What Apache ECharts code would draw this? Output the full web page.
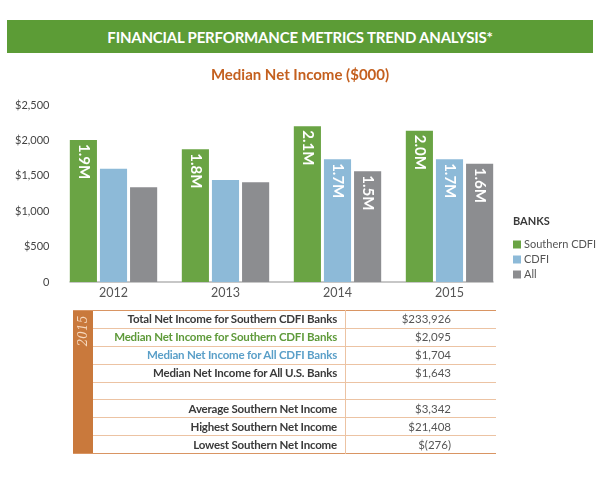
<!DOCTYPE html>
<html>
<head>
<meta charset="utf-8">
<script src="https://cdn.jsdelivr.net/npm/echarts@6/dist/echarts.min.js"></script>
<style>
  html, body { margin: 0; padding: 0; background: #fff; }
  body { width: 600px; height: 480px; position: relative; overflow: hidden; font-family: Lato, "Noto Sans", sans-serif; }
  #chart { position: absolute; left: 0; top: 0; width: 600px; height: 480px; }
  #header {
    position: absolute; left: 7px; top: 20px; width: 586px; height: 33px;
    background: #5c9c36; color: #fff; font-weight: bold; font-size: 15px;
    line-height: 34px; text-align: center; letter-spacing: -0.2px;
  }
  #stats {
    position: absolute; left: 73px; top: 310px; width: 423px;
    border-collapse: collapse; font-size: 11.5px;
  }
  #stats td { height: 16.9px; padding: 0; line-height: 16px; }
  #stats tr { border-bottom: 1px solid #ecc3a3; }
  #stats tr:first-child { border-top: 1.5px solid #d99563; }
  #stats tr:last-child { border-bottom: 1.5px solid #d99563; }
  #stats td.year {
    width: 20px; background: #c9793c; border-bottom: none; vertical-align: top; position: relative;
  }
  #stats td.label {
    width: 244px; text-align: right; padding-right: 8px; font-weight: bold; color: #3a3a3a;
    border-right: 1px solid #ecc3a3; letter-spacing: -0.2px;
  }
  #stats td.value { text-align: right; padding-right: 45px; color: #555; }
  .yr {
    position: absolute; left: 10px; top: 20px; transform: translate(-50%, -50%) rotate(-90deg);
    font-family: "DejaVu Serif", serif; font-style: italic; font-size: 12px; color: #f6d8bd;
    white-space: nowrap;
  }
</style>
</head>
<body>
<div id="chart"></div>
<div id="header">FINANCIAL PERFORMANCE METRICS TREND ANALYSIS*</div>
<table id="stats"></table>
<script>
const years = ["2012", "2013", "2014", "2015"];
const southernValues = [2005, 1875, 2200, 2135];
const cdfiValues = [1600, 1440, 1735, 1735];
const allValues = [1340, 1410, 1565, 1670];
const southernLabels = ["1.9M", "1.8M", "2.1M", "2.0M"];
const cdfiLabels = ["", "", "1.7M", "1.7M"];
const allLabels = ["", "", "1.5M", "1.6M"];
const seriesNames = ["Southern CDFI", "CDFI", "All"];
const seriesColors = ["#6aa444", "#8dbad8", "#8c8d90"];

const tableYear = "2015";
const tableLabels = [
  "Total Net Income for Southern CDFI Banks",
  "Median Net Income for Southern CDFI Banks",
  "Median Net Income for All CDFI Banks",
  "Median Net Income for All U.S. Banks",
  "",
  "Average Southern Net Income",
  "Highest Southern Net Income",
  "Lowest Southern Net Income"
];
const tableValues = ["$233,926", "$2,095", "$1,704", "$1,643", "", "$3,342", "$21,408", "$(276)"];
const tableColors = ["#3a3a3a", "#5e9a3a", "#5a9fc8", "#3a3a3a", "#3a3a3a", "#3a3a3a", "#3a3a3a", "#3a3a3a"];

function buildTable() {
  const table = document.getElementById("stats");
  tableLabels.forEach((label, i) => {
    const tr = document.createElement("tr");
    if (i === 0) {
      const yearCell = document.createElement("td");
      yearCell.className = "year";
      yearCell.rowSpan = tableLabels.length;
      yearCell.innerHTML = `<span class="yr">${tableYear}</span>`;
      tr.appendChild(yearCell);
    }
    const labelCell = document.createElement("td");
    labelCell.className = "label";
    labelCell.style.color = tableColors[i];
    labelCell.textContent = label;
    const valueCell = document.createElement("td");
    valueCell.className = "value";
    valueCell.textContent = tableValues[i];
    tr.appendChild(labelCell);
    tr.appendChild(valueCell);
    table.appendChild(tr);
  });
}

function barSeries(name, values, labels, color) {
  return {
    name,
    type: "bar",
    barGap: "11%",
    barCategoryGap: "22%",
    itemStyle: { color },
    data: values.map((value, i) => ({
      value,
      label: {
        show: labels[i] !== "",
        formatter: labels[i]
      }
    })),
    label: {
      position: "insideTop",
      rotate: -90,
      align: "left",
      verticalAlign: "middle",
      distance: 4,
      color: "#fff",
      fontFamily: "Lato",
      fontWeight: "bold",
      fontSize: 15
    },
    emphasis: { disabled: true }
  };
}

function init() {
  buildTable();
  const chart = echarts.init(document.getElementById("chart"));
  chart.setOption({
    animation: false,
    textStyle: { fontFamily: "Lato" },
    title: [
      {
        text: "Median Net Income ($000)",
        left: "center",
        top: 63,
        textStyle: { color: "#c4601f", fontSize: 15, fontWeight: "bold", fontFamily: "Lato" }
      },
      {
        text: "BANKS",
        left: 508,
        top: 211,
        textStyle: { color: "#3a3a3a", fontSize: 11, fontWeight: "bold", fontFamily: "Lato" }
      }
    ],
    legend: {
      orient: "vertical",
      left: 508,
      top: 234,
      icon: "rect",
      itemWidth: 8,
      itemHeight: 8,
      itemGap: 4,
      data: seriesNames,
      selectedMode: false,
      textStyle: { color: "#555", fontSize: 11, padding: [0, 0, 0, -2] }
    },
    grid: [
      { left: 57.5, right: 94.5, top: 105, bottom: 198 },
      { left: 70, right: 107, top: 105, bottom: 198 }
    ],
    xAxis: [
      {
        type: "category",
        data: years,
        gridIndex: 0,
        axisLine: { show: false },
        axisTick: { show: false },
        axisLabel: { color: "#555", fontSize: 12.5, margin: 4 }
      },
      {
        type: "category",
        data: years,
        gridIndex: 1,
        axisLine: { show: true, lineStyle: { color: "#b5b5b5", width: 1.5 } },
        axisTick: { show: false },
        axisLabel: { show: false }
      }
    ],
    yAxis: [
      {
        type: "value",
        gridIndex: 0,
        min: 0,
        max: 2500,
        interval: 500,
        splitLine: { show: false },
        axisLine: { show: false },
        axisTick: { show: false },
        axisLabel: {
          color: "#444",
          fontSize: 11,
          margin: 8,
          formatter: (v) => (v === 0 ? "0" : "$" + v.toLocaleString("en-US"))
        }
      },
      { type: "value", gridIndex: 1, show: false, min: 0, max: 2500 }
    ],
    series: [
      barSeries(seriesNames[0], southernValues, southernLabels, seriesColors[0]),
      barSeries(seriesNames[1], cdfiValues, cdfiLabels, seriesColors[1]),
      barSeries(seriesNames[2], allValues, allLabels, seriesColors[2])
    ]
  });
}

init();
</script>
</body>
</html>
